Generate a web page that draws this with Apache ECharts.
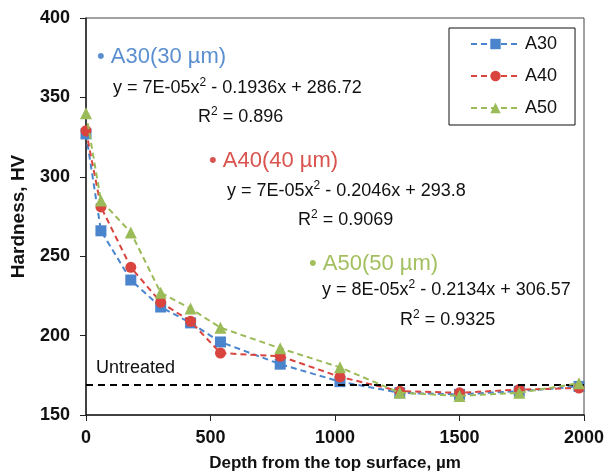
<!DOCTYPE html>
<html>
<head>
<meta charset="utf-8">
<script src="https://cdn.jsdelivr.net/npm/echarts@6/dist/echarts.min.js"></script>
<style>html,body{margin:0;padding:0;background:#fff}#c{width:608px;height:474px}</style>
</head>
<body>
<div id="c"></div>
<script>
const depth = [0, 60, 180, 300, 420, 540, 780, 1020, 1260, 1500, 1740, 1980];
const a30 = [327, 266, 235, 218, 208, 196, 182, 171, 164, 163, 165, 168];
const a40 = [329, 281, 243, 221, 209, 189, 187, 174, 165, 164, 166, 167];
const a50 = [340, 285, 265, 227, 217, 205, 192, 180, 164, 162, 164, 170];
const untreated = 169;
const seriesNames = ['A30', 'A40', 'A50'];
const headers = ['A30(30 µm)', 'A40(40 µm)', 'A50(50 µm)'];
const equations = [
  ['y = 7E-05x', ' - 0.1936x + 286.72', '0.896'],
  ['y = 7E-05x', ' - 0.2046x + 293.8', '0.9069'],
  ['y = 8E-05x', ' - 0.2134x + 306.57', '0.9325']
];

const FONT = '"Liberation Sans", Arial, sans-serif';
const colors = ['#4a84cc', '#d9443f', '#9bbb59'];
const textColors = ['#5b8fd0', '#d9534f', '#a3c060'];
const symbols = ['rect', 'circle', 'triangle'];
const dataSets = [a30, a40, a50];

function mkSeries(i) {
  const s = {
    name: seriesNames[i],
    type: 'line',
    data: depth.map((d, k) => [d, dataSets[i][k]]),
    symbol: symbols[i],
    symbolSize: i === 2 ? 12 : 11,
    lineStyle: { color: colors[i], width: 2, type: [6, 4] },
    itemStyle: { color: colors[i] },
    z: 3 + i
  };
  if (i === 0) {
    s.markLine = {
      silent: true,
      symbol: 'none',
      label: { show: false },
      lineStyle: { color: '#000', width: 2, type: [7, 5] },
      data: [{ yAxis: untreated }]
    };
  }
  return s;
}

const hdrPos = [[97, 58], [209, 162], [309, 265]];
const eqPos = [[113, 88], [227, 191], [322, 290]];
const rPos = [[198, 117], [298, 220], [400, 320]];
const graphics = [];
for (let i = 0; i < 3; i++) {
  graphics.push({
    type: 'text', left: hdrPos[i][0], top: hdrPos[i][1] - 12,
    style: { text: '• ' + headers[i], font: '22px ' + FONT, fill: textColors[i] }
  });
  graphics.push({
    type: 'text', left: eqPos[i][0], top: eqPos[i][1] - 11,
    style: {
      text: '{n|' + equations[i][0] + '}{s|2}{n|' + equations[i][1] + '}',
      rich: {
        n: { fontSize: 18, fontFamily: FONT, fill: '#111', lineHeight: 22 },
        s: { fontSize: 12, fontFamily: FONT, fill: '#111', verticalAlign: 'top', lineHeight: 22 }
      }
    }
  });
  graphics.push({
    type: 'text', left: rPos[i][0], top: rPos[i][1] - 11,
    style: {
      text: '{n|R}{s|2}{n| = ' + equations[i][2] + '}',
      rich: {
        n: { fontSize: 18, fontFamily: FONT, fill: '#111', lineHeight: 22 },
        s: { fontSize: 12, fontFamily: FONT, fill: '#111', verticalAlign: 'top', lineHeight: 22 }
      }
    }
  });
}
graphics.push({
  type: 'text', left: 96, top: 369 - 10,
  style: { text: 'Untreated', font: '18px ' + FONT, fill: '#111' }
});

const chart = echarts.init(document.getElementById('c'));
chart.setOption({
  backgroundColor: '#fff',
  animation: false,
  grid: { left: 86, right: 24, top: 18, bottom: 59, show: true, borderColor: '#444', borderWidth: 1, containLabel: false, outerBoundsMode: 'none' },
  legend: {
    data: seriesNames,
    orient: 'vertical',
    left: 449, top: 28,
    padding: [7, 18, 8, 21],
    itemGap: 14,
    itemWidth: 49, itemHeight: 13,
    selectedMode: false,
    borderColor: '#111', borderWidth: 1,
    textStyle: { fontSize: 18, fontFamily: FONT, color: '#111' }
  },
  xAxis: {
    type: 'value', min: 0, max: 2000, interval: 500,
    name: 'Depth from the top surface, µm',
    nameLocation: 'middle', nameGap: 40,
    nameTextStyle: { fontSize: 17, fontWeight: 'bold', fontFamily: FONT, color: '#111' },
    axisLine: { lineStyle: { color: '#222', width: 1.5 } },
    axisTick: { inside: false, length: 6, lineStyle: { color: '#222' } },
    axisLabel: { fontSize: 18, fontWeight: 'bold', fontFamily: FONT, color: '#111', margin: 14, formatter: v => String(v) },
    splitLine: { show: false }
  },
  yAxis: {
    type: 'value', min: 150, max: 400, interval: 50,
    name: 'Hardness, HV',
    nameLocation: 'middle', nameGap: 58,
    nameTextStyle: { fontSize: 19, fontWeight: 'bold', fontFamily: FONT, color: '#111' },
    axisLine: { show: true, lineStyle: { color: '#222', width: 1.5 } },
    axisTick: { show: true, inside: false, length: 6, lineStyle: { color: '#222' } },
    axisLabel: { fontSize: 18, fontWeight: 'bold', fontFamily: FONT, color: '#111', margin: 16, formatter: v => String(v) },
    splitLine: { show: false }
  },
  graphic: graphics,
  series: [mkSeries(0), mkSeries(1), mkSeries(2)]
});
</script>
</body>
</html>
